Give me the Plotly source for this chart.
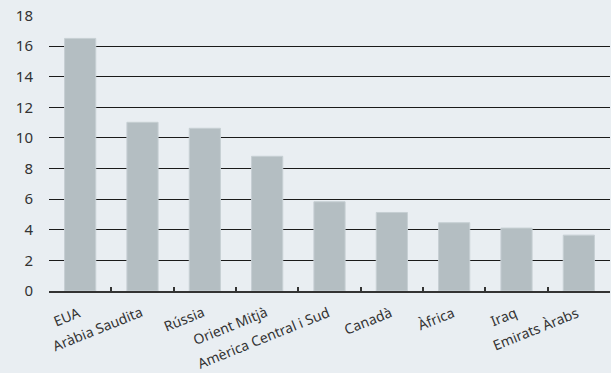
import plotly.graph_objects as go

categories = ["EUA", "Aràbia Saudita", "Rússia", "Orient Mitjà", "Amèrica Central i Sud",
              "Canadà", "Àfrica", "Iraq", "Emirats Àrabs"]
values = [16.5, 11.02, 10.63, 8.8, 5.83, 5.13, 4.46, 4.11, 3.65]
y_ticks = [0, 2, 4, 6, 8, 10, 12, 14, 16, 18]

bg = "#e9eef2"
fig = go.Figure(go.Bar(
    x=categories, y=values,
    marker=dict(color="#b4bec2", line=dict(color="#c6cfd3", width=1)),
    width=0.5,
))
for c in categories:
    fig.add_annotation(
        x=c, y=0, xref="x", yref="y", text=c, showarrow=False,
        textangle=-22, xanchor="right", yanchor="top",
        xshift=4, yshift=-10, borderpad=0,
        font=dict(size=14, color="#333333"),
    )
fig.update_layout(
    width=611, height=373,
    margin=dict(l=49, r=1, t=15, b=82),
    paper_bgcolor=bg, plot_bgcolor=bg,
    font=dict(family="Noto Sans, Open Sans, sans-serif", color="#333333"),
    showlegend=False,
    bargap=0.5,
)
fig.update_xaxes(
    type="category", showticklabels=False, range=[-0.5, 8.5],
    showgrid=False, showline=True, linecolor="#333333", linewidth=1.5,
    ticks="inside", tickson="boundaries", ticklen=4, tickcolor="#333333", tickwidth=1.5,
    automargin=False,
)
fig.update_yaxes(
    range=[0, 18.03], tickvals=y_ticks, tickfont=dict(size=15),
    showgrid=True, gridcolor="#1a1a1a", gridwidth=1.2,
    zeroline=False, showline=False, ticks="", ticklabelstandoff=15,
    automargin=False,
)
fig.write_html("out.html")
